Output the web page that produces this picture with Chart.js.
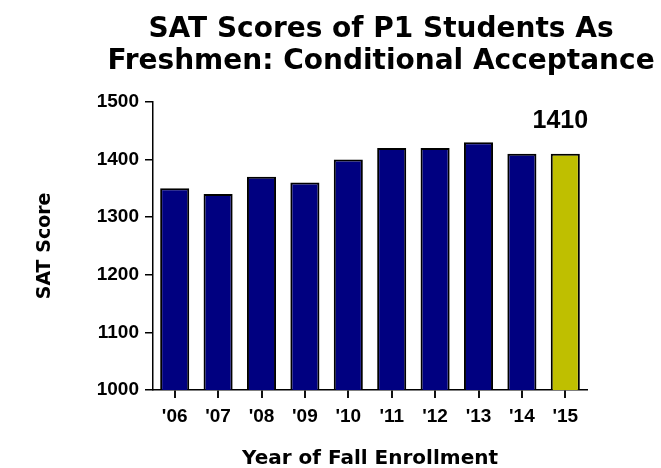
<!DOCTYPE html>
<html>
<head>
<meta charset="utf-8">
<script src="https://cdn.jsdelivr.net/npm/chart.js@4"></script>
<style>
  html, body { margin: 0; padding: 0; background: #fff; }
  #wrap { width: 661px; height: 468px; }
</style>
</head>
<body>
<div id="wrap"><canvas id="satChart" width="661" height="468"></canvas></div>
<script>
const years = ["'06", "'07", "'08", "'09", "'10", "'11", "'12", "'13", "'14", "'15"]
const scores = [1350, 1340, 1370, 1360, 1400, 1420, 1420, 1430, 1410, 1410]
const barColors = ['#000080', '#000080', '#000080', '#000080', '#000080',
  '#000080', '#000080', '#000080', '#000080', '#bfbf00']
const yTicks = [1000, 1100, 1200, 1300, 1400, 1500]
const callout = '1410'

const titleFont = '"DejaVu Sans", sans-serif'
const tickFont = '"Liberation Sans", Arial, sans-serif'

// label over the last bar
const lastBarLabel = {
  id: 'lastBarLabel',
  afterDatasetsDraw(chart) {
    const meta = chart.getDatasetMeta(0)
    const bar = meta.data[meta.data.length - 1]
    const ctx = chart.ctx
    ctx.save()
    ctx.font = 'bold 25px ' + tickFont
    ctx.fillStyle = '#000'
    ctx.textAlign = 'center'
    ctx.textBaseline = 'middle'
    ctx.fillText(callout, bar.x - 5, bar.y - 33)
    ctx.restore()
  }
}

const c = document.getElementById('satChart').getContext('2d')
new Chart(c, {
  type: 'bar',
  data: {
    labels: years,
    datasets: [{
      data: scores,
      backgroundColor: barColors,
      borderColor: '#000',
      borderWidth: 2,
      borderSkipped: false,
      categoryPercentage: 1,
      barPercentage: 0.67
    }]
  },
  options: {
    responsive: false,
    animation: false,
    // uneven padding moves the title centre right of the canvas centre
    layout: { padding: { left: 90, right: -11, top: 0, bottom: 0 } },
    plugins: {
      legend: { display: false },
      tooltip: { enabled: false },
      title: {
        display: true,
        text: ['SAT Scores of P1 Students As', 'Freshmen: Conditional Acceptance'],
        color: '#000',
        font: { family: titleFont, size: 28, weight: 'bold', lineHeight: 1.14 },
        padding: { top: 14, bottom: 24 }
      }
    },
    scales: {
      x: {
        grid: {
          drawOnChartArea: false,
          offset: false,
          color: '#111',
          lineWidth: 2,
          tickColor: '#111',
          tickWidth: 2,
          tickLength: 8
        },
        border: { color: '#000', width: 1.5 },
        ticks: { color: '#000', font: { family: tickFont, size: 19, weight: 'bold' }, padding: 7 },
        title: {
          display: true,
          text: 'Year of Fall Enrollment',
          color: '#000',
          font: { family: titleFont, size: 20, weight: 'bold', lineHeight: 1.2 },
          padding: { top: 0, bottom: -3 }
        },
        afterFit(scale) { scale.height = 78 }
      },
      y: {
        min: 1000,
        max: 1500,
        afterBuildTicks(scale) { scale.ticks = yTicks.map(v => ({ value: v })) },
        grid: { drawOnChartArea: false, color: '#000', lineWidth: 1.5, tickColor: '#000', tickLength: 8 },
        border: { color: '#000', width: 1.5 },
        ticks: {
          color: '#000',
          font: { family: tickFont, size: 19, weight: 'bold' },
          padding: 6,
          callback: v => String(v)
        },
        title: {
          display: true,
          text: 'SAT Score',
          color: '#000',
          font: { family: titleFont, size: 19, weight: 'bold', lineHeight: 1.2 },
          padding: { top: -56, bottom: 0 }
        },
        afterFit(scale) { scale.width = 63 }
      },
      // empty spacer on the right
      spacer: {
        type: 'linear',
        position: 'right',
        grid: { display: false },
        border: { display: false },
        ticks: { display: false },
        afterFit(scale) { scale.width = 85 }
      }
    }
  },
  plugins: [lastBarLabel]
})
</script>
</body>
</html>
